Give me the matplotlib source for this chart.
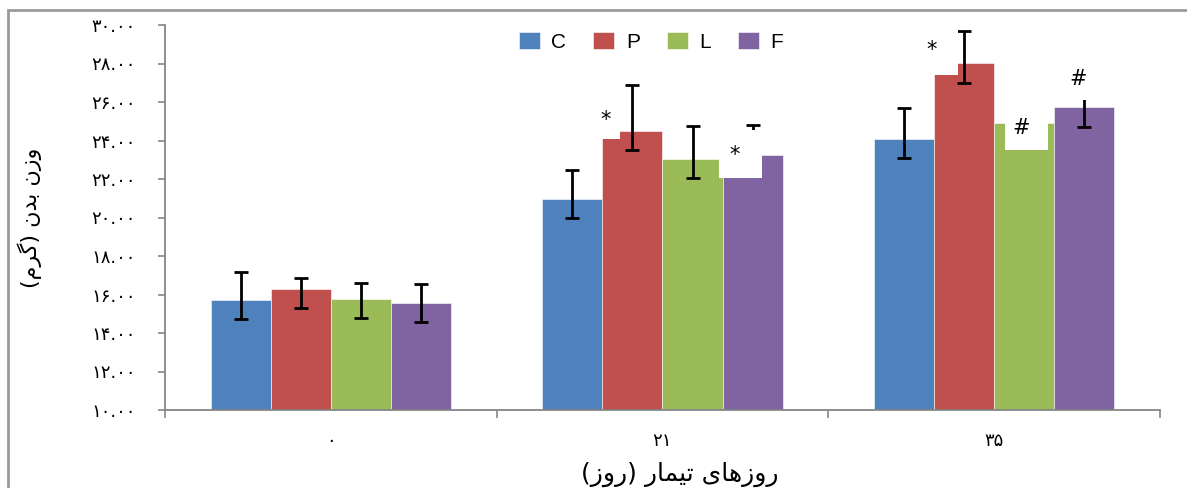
import numpy as np
import matplotlib
matplotlib.use('Agg')
import matplotlib.pyplot as plt
import matplotlib.transforms as mtransforms
from matplotlib.patches import Rectangle

#fonts: latin first, DejaVu for the persian glyphs
plt.rcParams['font.family'] = ['Liberation Sans', 'DejaVu Sans']

#data
days = ['۰', '۲۱', '۳۵']
groups = ['C', 'P', 'L', 'F']
colors = ['#4F81BD', '#C0504D', '#9BBB59', '#8064A2']
mean_c = [15.71, 20.96, 24.06]
mean_p = [16.29, 24.48, 28.01]
mean_l = [15.75, 23.02, 24.89]
mean_f = [15.54, 23.23, 25.72]
#error bar ends (top, bottom)
top_c = [17.18, 22.47, 25.67]
bot_c = [14.73, 19.97, 23.08]
top_p = [16.87, 26.87, 29.69]
bot_p = [15.28, 23.51, 27.00]
top_l = [16.58, 24.77, 25.70]
bot_l = [14.76, 22.04, 24.10]
top_f = [16.55, 24.81, 26.60]
bot_f = [14.56, 22.30, 24.72]

ylabel = 'وزن بدن (گرم)'
xlabel = 'روزهای تیمار (روز)'

#significance marks: (group, day index, text)
marks = [('P', 1, '*'), ('F', 1, '*'), ('P', 2, '*'), ('L', 2, '#'), ('F', 2, '#')]
#mark placement in px from the bar top: dx, dy, and its white box
#as left, right, below, above around the mark
mark_pos = [(-27, 11), (-18, 0), (-33, 13), (-3, -5), (-6, 28)]
mark_box = [(16, 15, 19, 25), (16, 27, 23, 25), (16, 27, 25, 25),
            (16, 27, 22, 25), (16, 27, 21, 25)]

#persian letter forms: isolated, final, initial, medial
FORMS = {
    'ا': ('\uFE8D', '\uFE8E', None, None),
    'ب': ('\uFE8F', '\uFE90', '\uFE91', '\uFE92'),
    'ت': ('\uFE95', '\uFE96', '\uFE97', '\uFE98'),
    'د': ('\uFEA9', '\uFEAA', None, None),
    'ر': ('\uFEAD', '\uFEAE', None, None),
    'ز': ('\uFEAF', '\uFEB0', None, None),
    'م': ('\uFEE1', '\uFEE2', '\uFEE3', '\uFEE4'),
    'ن': ('\uFEE5', '\uFEE6', '\uFEE7', '\uFEE8'),
    'ه': ('\uFEE9', '\uFEEA', '\uFEEB', '\uFEEC'),
    'و': ('\uFEED', '\uFEEE', None, None),
    'ی': ('\uFBFC', '\uFBFD', '\uFBFE', '\uFBFF'),
    'گ': ('\uFB92', '\uFB93', '\uFB94', '\uFB95'),
}
MIRROR = {'(': ')', ')': '('}


def shape_word(w):
    out = []
    for i, ch in enumerate(w):
        if ch not in FORMS:
            out.append(MIRROR.get(ch, ch))
            continue
        prev = w[i - 1] if i > 0 else None
        nxt = w[i + 1] if i + 1 < len(w) else None
        join_prev = prev in FORMS and FORMS[prev][2] is not None
        join_next = nxt in FORMS and FORMS[ch][2] is not None
        iso, fin, ini, med = FORMS[ch]
        if join_prev and join_next:
            out.append(med)
        elif join_prev:
            out.append(fin)
        elif join_next:
            out.append(ini)
        else:
            out.append(iso)
    return ''.join(reversed(out))


def fa(text):
    #shape each word and lay the words out right to left
    words = [shape_word(w) for w in text.split(' ')]
    return ' '.join(words[::-1])


def fa_digits(s):
    return s.translate(str.maketrans('0123456789', '۰۱۲۳۴۵۶۷۸۹'))


means = {'C': mean_c, 'P': mean_p, 'L': mean_l, 'F': mean_f}
tops = {'C': top_c, 'P': top_p, 'L': top_l, 'F': top_f}
bots = {'C': bot_c, 'P': bot_p, 'L': bot_l, 'F': bot_f}

fig = plt.figure(figsize=(11.87, 4.88), dpi=100)
ax = fig.add_axes([165 / 1187, 1 - 410 / 488, (1160 - 165) / 1187, (410 - 25) / 488])

x = np.arange(len(days))
w = 0.181
for i, g in enumerate(groups):
    xs = x + (i - 1.5) * w
    m = np.array(means[g])
    ax.bar(xs, m - 10, w, bottom=10, color=colors[i], label=g, zorder=2,
           edgecolor='white', linewidth=0.4)
    lo = m - np.array(bots[g])
    hi = np.array(tops[g]) - m
    ax.errorbar(xs, m, yerr=[lo, hi], fmt='none', ecolor='black',
                elinewidth=2, capsize=5, capthick=2, zorder=3)

#significance marks sit in white boxes that hide part of the bars
px = 1 / fig.dpi
for (g, d, txt), (dx, dy), (bl, br, bb, bt) in zip(marks, mark_pos, mark_box):
    i = groups.index(g)
    xb = x[d] + (i - 1.5) * w
    #inch units around the bar top
    tr = fig.dpi_scale_trans + mtransforms.ScaledTranslation(xb, means[g][d], ax.transData)
    cx, cy = dx * px, dy * px
    ax.add_patch(Rectangle((cx - bl * px, cy - bb * px), (bl + br) * px, (bb + bt) * px,
                           transform=tr, facecolor='white', edgecolor='none', zorder=5))
    ax.text(cx, cy, txt, transform=tr, ha='center', va='center', fontsize=15,
            fontfamily='DejaVu Sans', zorder=6)

ax.set_ylim(10, 30)
ax.set_xlim(-0.5, 2.5)
yt = np.arange(10, 31, 2)
ax.set_yticks(yt)
ax.set_yticklabels([fa_digits('%.2f' % v) for v in yt], fontsize=13,
                   fontfamily='DejaVu Sans')
ax.set_xticks(x)
ax.set_xticklabels(days, fontsize=13, fontfamily='DejaVu Sans')
ax.set_xticks(np.arange(-0.5, 3.0, 1.0), minor=True)
ax.tick_params(axis='x', which='major', length=0, pad=16)
ax.tick_params(axis='x', which='minor', length=6, width=1.2, color='#868686')
ax.tick_params(axis='y', length=5, width=1.2, color='#868686', pad=16)

for s in ['top', 'right']:
    ax.spines[s].set_visible(False)
for s in ['left', 'bottom']:
    ax.spines[s].set_color('#868686')
    ax.spines[s].set_linewidth(1.3)

fig.text(30 / 1187, 1 - 218 / 488, fa(ylabel), rotation=90, ha='center',
         va='center', fontsize=16, fontfamily='DejaVu Sans')
fig.text(680 / 1187, 1 - 474 / 488, fa(xlabel), ha='center',
         va='center', fontsize=18, fontfamily='DejaVu Sans')

fig.legend(loc='center', bbox_to_anchor=(651 / 1187, 1 - 42 / 488), ncol=4,
           frameon=False, fontsize=15, handlelength=1.0, handleheight=0.9,
           handletextpad=0.55, columnspacing=1.3)

#grey chart border (cut off at the right and bottom)
fig.patches.append(Rectangle((8 / 1187, -0.1), 1.2, 1.1 - 10 / 488,
                             transform=fig.transFigure, fill=False,
                             edgecolor='#9a9a9a', linewidth=2))

fig.savefig('out.png', dpi=100)
